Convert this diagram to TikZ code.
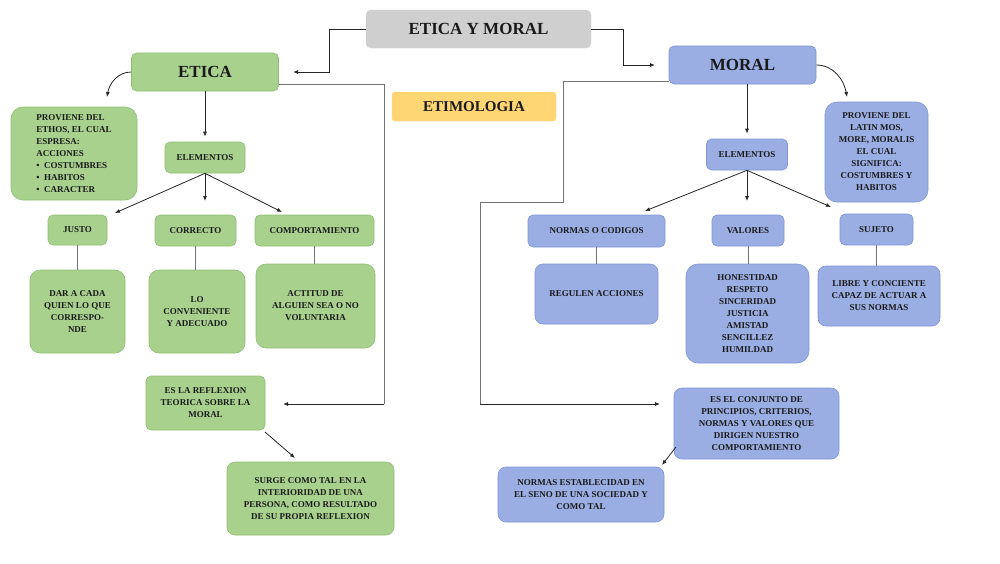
\documentclass[tikz,border=0pt]{standalone}
\usepackage{fontspec}
\setmainfont{Liberation Serif}
\usetikzlibrary{arrows.meta}
\definecolor{gfill}{HTML}{A9D18E}
\definecolor{gdraw}{HTML}{8DBF72}
\definecolor{bfill}{HTML}{9AAEE3}
\definecolor{bdraw}{HTML}{7F95D6}
\definecolor{grayf}{HTML}{CFCFCF}
\definecolor{yelf}{HTML}{FFD673}
\definecolor{txt}{HTML}{1A1A1A}
\begin{document}
\begin{tikzpicture}[x=1pt,y=-1pt,
  box/.style={rounded corners=5pt,inner sep=1pt,align=center,font=\bfseries\fontsize{9}{12}\selectfont,text=txt},
  g/.style={box,fill=gfill,draw=gdraw,line width=0.6pt},
  b/.style={box,fill=bfill,draw=bdraw,line width=0.6pt},
  big/.style={font=\bfseries\fontsize{17}{19}\selectfont},
  arr/.style={-{Latex[length=5pt,width=4pt]},line width=0.8pt,black!85},
  ln/.style={line width=0.6pt,black!55}]
\useasboundingbox (0,0) rectangle (1000,563);
% nodes
\node[box,fill=grayf,draw=grayf,minimum width=225,minimum height=38,big] (top) at (478.5,29) {ETICA Y MORAL};
\node[g,minimum width=147,minimum height=38,big] (etica) at (205,72) {ETICA};
\node[b,minimum width=147,minimum height=38,big] (moral) at (742.5,65) {MORAL};
\node[box,fill=yelf,draw=yelf,rounded corners=3pt,minimum width=164,minimum height=29,font=\bfseries\fontsize{15}{17}\selectfont] (etim) at (474,106.5) {ETIMOLOGIA};
\node[g,rounded corners=12pt,minimum width=126,minimum height=93,align=left] (provl) at (74,153.5) {PROVIENE DEL\\ETHOS, EL CUAL\\ESPRESA:\\ACCIONES\\\textbullet\enspace COSTUMBRES\\\textbullet\enspace HABITOS\\\textbullet\enspace CARACTER};
\node[g,minimum width=80,minimum height=31] (elel) at (205,157.5) {ELEMENTOS};
\node[g,minimum width=59,minimum height=30] (justo) at (77.5,230) {JUSTO};
\node[g,minimum width=81,minimum height=31] (corr) at (195.5,230.5) {CORRECTO};
\node[g,minimum width=119,minimum height=31] (comp) at (314.5,230.5) {COMPORTAMIENTO};
\node[g,rounded corners=10pt,minimum width=95,minimum height=83] (dar) at (77.5,311.5) {DAR A CADA\\QUIEN LO QUE\\CORRESPO-\\NDE};
\node[g,rounded corners=10pt,minimum width=96,minimum height=83] (lo) at (197,311.5) {LO\\CONVENIENTE\\Y ADECUADO};
\node[g,rounded corners=10pt,minimum width=119,minimum height=84] (act) at (315.5,306) {ACTITUD DE\\ALGUIEN SEA O NO\\VOLUNTARIA};
\node[g,minimum width=119,minimum height=54] (refl) at (205.5,403) {ES LA REFLEXION\\TEORICA SOBRE LA\\MORAL};
\node[g,rounded corners=8pt,minimum width=167,minimum height=73] (surge) at (310.5,498.5) {SURGE COMO TAL EN LA\\INTERIORIDAD DE UNA\\PERSONA, COMO RESULTADO\\DE SU PROPIA REFLEXION};
\node[b,minimum width=81,minimum height=31] (eler) at (747,154.5) {ELEMENTOS};
\node[b,rounded corners=12pt,minimum width=103,minimum height=100] (provr) at (876.5,152) {PROVIENE DEL\\LATIN MOS,\\MORE, MORALIS\\EL CUAL\\SIGNIFICA:\\COSTUMBRES Y\\HABITOS};
\node[b,minimum width=137,minimum height=32] (norm) at (596.5,231) {NORMAS O CODIGOS};
\node[b,minimum width=72,minimum height=31] (val) at (748,230.5) {VALORES};
\node[b,minimum width=73,minimum height=31] (suj) at (876.5,229.5) {SUJETO};
\node[b,rounded corners=8pt,minimum width=123,minimum height=60] (reg) at (596.5,294) {REGULEN ACCIONES};
\node[b,rounded corners=12pt,minimum width=123,minimum height=99] (hon) at (747.5,313.5) {HONESTIDAD\\RESPETO\\SINCERIDAD\\JUSTICIA\\AMISTAD\\SENCILLEZ\\HUMILDAD};
\node[b,rounded corners=8pt,minimum width=122,minimum height=60] (lib) at (879,296) {LIBRE Y CONCIENTE\\CAPAZ DE ACTUAR A\\SUS NORMAS};
\node[b,rounded corners=8pt,minimum width=165,minimum height=71] (conj) at (756.5,423.5) {ES EL CONJUNTO DE\\PRINCIPIOS, CRITERIOS,\\NORMAS Y VALORES QUE\\DIRIGEN NUESTRO\\COMPORTAMIENTO};
\node[b,rounded corners=8pt,minimum width=166,minimum height=55] (nest) at (581,494.5) {NORMAS ESTABLECIDAD EN\\EL SENO DE UNA SOCIEDAD Y\\COMO TAL};
% coordinates
\coordinate (a1) at (293,72);
\coordinate (a2) at (655,65);
\coordinate (a3) at (283,404);
\coordinate (a4) at (660,404);
% connectors
\draw[arr] (top.west) -- (329,29) |- (a1);
\draw[arr] (top.east) -- (623,29) |- (a2);
\draw[ln] (etica.east |- 0,84) -- (384,84) -- (384,404);
\draw[arr] (384,404) -- (a3);
\draw[ln] (moral.west |- 0,81) -| (563,202) -| (480,404);
\draw[arr] (480,404) -- (a4);
\draw[arr] (etica.west) to[out=180,in=80] (107,97);
\draw[arr] (moral.east) to[out=0,in=100] (847,97);
\draw[arr] (etica.south) -- ([yshift=5]elel.north);
\draw[arr] (elel.south) -- (115,213);
\draw[arr] (elel.south) -- (205,201);
\draw[arr] (elel.south) -- (282,212);
\draw[arr] (moral.south -| eler.north) -- ([yshift=5]eler.north);
\draw[arr] (eler.south) -- (645,211);
\draw[arr] (eler.south) -- (747,201);
\draw[arr] (eler.south) -- (831,207);
\draw[ln] (justo.south) -- (justo.south |- dar.north);
\draw[ln] (corr.south) -- (corr.south |- lo.north);
\draw[ln] (comp.south) -- (comp.south |- act.north);
\draw[ln] (norm.south) -- (norm.south |- reg.north);
\draw[ln] (val.south) -- (val.south |- hon.north);
\draw[ln] (suj.south) -- (suj.south |- lib.north);
\draw[arr] (265,432) -- (295,458);
\draw[arr] (676,447) -- (662,465);
\end{tikzpicture}
\end{document}
